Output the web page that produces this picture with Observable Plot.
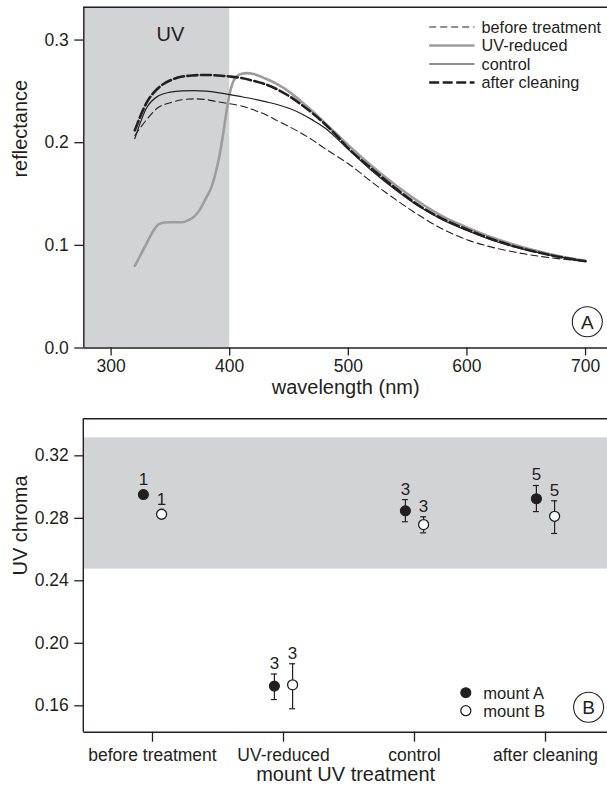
<!DOCTYPE html>
<html>
<head>
<meta charset="utf-8">
<script src="https://cdn.jsdelivr.net/npm/d3@7"></script>
<script src="https://cdn.jsdelivr.net/npm/@observablehq/plot@0.6"></script>
<style>
  html, body { margin: 0; padding: 0; background: #fff; }
  #chart { width: 607px; height: 793px; font-family: "Liberation Sans", Arial, sans-serif; }
  #chart svg { display: block; }
</style>
</head>
<body>
<div id="chart"></div>
<script>
// ---------- Panel A data: reflectance spectra ----------
const wavelengths = [320,330,340,350,360,370,380,390,400,410,420,430,440,450,460,470,480,490,500,520,540,560,580,600,620,640,660,680,700];
const beforeTreatment = [0.207,0.2225,0.2345,0.239,0.2418,0.2427,0.242,0.2398,0.238,0.2357,0.232,0.2275,0.2215,0.2157,0.2095,0.2025,0.1945,0.187,0.1795,0.1615,0.1445,0.129,0.1155,0.1055,0.0985,0.0935,0.0895,0.0866,0.0845];
const control = [0.204,0.234,0.2457,0.2493,0.2505,0.2507,0.2502,0.2488,0.2468,0.2448,0.2426,0.24,0.2372,0.2335,0.2285,0.222,0.2145,0.2045,0.1935,0.1725,0.154,0.1375,0.1245,0.1145,0.1055,0.0985,0.093,0.0882,0.0845];
const afterCleaning = [0.212,0.239,0.2535,0.2608,0.2644,0.2656,0.266,0.2655,0.2645,0.263,0.2603,0.257,0.252,0.2455,0.2375,0.2285,0.2185,0.207,0.1945,0.1745,0.1555,0.1385,0.1255,0.1155,0.1065,0.099,0.0932,0.0883,0.0845];
const uvReducedWavelengths = [320,325,330,335,340,345,350,360,365,370,375,380,385,388,391,394,397,400,405,410,415,420,430,440,450,460,470,480,490,500,520,540,560,580,600,620,640,660,680,700];
const uvReduced = [0.080,0.091,0.102,0.113,0.1205,0.1222,0.1225,0.1225,0.1245,0.128,0.135,0.146,0.158,0.170,0.185,0.205,0.228,0.248,0.2635,0.2672,0.2678,0.267,0.2625,0.257,0.2497,0.2405,0.2305,0.2195,0.2085,0.1975,0.177,0.1585,0.142,0.128,0.1175,0.1082,0.1005,0.0942,0.0888,0.085];
const seriesNames = ["before treatment", "UV-reduced", "control", "after cleaning"];
const xTicksA = [300, 400, 500, 600, 700];
const yTicksA = [0, 0.1, 0.2, 0.3];
const xDomainA = [277, 718.5];
const yDomainA = [0, 0.332];
const uvBand = [277, 400];
const uvLabel = {text: "UV", wavelength: 350};

// ---------- Panel B data: UV chroma ----------
const treatments = ["before treatment", "UV-reduced", "control", "after cleaning"];
const mountAChroma = [0.2952, 0.1726, 0.2848, 0.2925];
const mountALow    = [null, 0.1640, 0.2778, 0.2843];
const mountAHigh   = [null, 0.1803, 0.2920, 0.3010];
const mountBChroma = [0.2826, 0.1734, 0.2760, 0.2813];
const mountBLow    = [null, 0.1581, 0.2707, 0.2703];
const mountBHigh   = [null, 0.1869, 0.2810, 0.2912];
const sampleSizes  = [1, 3, 3, 5];
const yTicksB = [0.16, 0.20, 0.24, 0.28, 0.32];
const yDomainB = [0.1431, 0.3437];
const chromaBand = [0.2475, 0.3315];
const mountNames = ["mount A", "mount B"];

// ---------- styles ----------
const ink = "#231f20";
const grayFill = "#d2d3d5";
const font = "'Liberation Sans', Arial, sans-serif";
const styleA = [
  {stroke: ink, width: 1.1, dash: "7,4"},
  {stroke: "#9d9d9d", width: 2.6, dash: null},
  {stroke: ink, width: 1.2, dash: null},
  {stroke: ink, width: 2.6, dash: "10,3.5"}
];
const seriesData = [
  wavelengths.map((w, i) => ({w, r: beforeTreatment[i]})),
  uvReducedWavelengths.map((w, i) => ({w, r: uvReduced[i]})),
  wavelengths.map((w, i) => ({w, r: control[i]})),
  wavelengths.map((w, i) => ({w, r: afterCleaning[i]}))
];
const drawOrder = [1, 0, 2, 3];

const chart = document.getElementById("chart");

// ---------- Panel A ----------
const plotA = Plot.plot({
  width: 607, height: 410,
  marginTop: 6.7, marginLeft: 83.3, marginRight: 0, marginBottom: 62.5,
  style: {fontFamily: font, fontSize: "17.5px", color: ink, background: "#fff"},
  x: {domain: xDomainA},
  y: {domain: yDomainA},
  marks: [
    Plot.rect([uvBand], {x1: d => d[0], x2: d => d[1], y1: () => yDomainA[0], y2: () => yDomainA[1], fill: grayFill}),
    ...drawOrder.map(k => Plot.line(seriesData[k], {
      x: "w", y: "r", curve: "monotone-x",
      stroke: styleA[k].stroke, strokeWidth: styleA[k].width,
      strokeDasharray: styleA[k].dash || undefined
    })),
    Plot.text([uvLabel], {x: "wavelength", frameAnchor: "top", dy: 20, text: "text", fontSize: 20, fill: ink}),
    Plot.ruleX([xDomainA[0]], {stroke: ink, strokeWidth: 1.4}),
    Plot.ruleY([yDomainA[0]], {stroke: ink, strokeWidth: 1.4}),
    Plot.ruleY([yDomainA[1]], {stroke: ink, strokeWidth: 1.4}),
    Plot.axisX({ticks: xTicksA, tickSize: 8, tickPadding: 4, label: null, strokeWidth: 1.3, fontSize: 17.5}),
    Plot.axisY({ticks: yTicksA, tickFormat: ".1f", tickSize: 9, tickPadding: 6, label: null, strokeWidth: 1.3, fontSize: 17.5}),
    Plot.text(["wavelength (nm)"], {frameAnchor: "bottom", dy: 46, fontSize: 20, fill: ink}),
    Plot.text(["reflectance"], {frameAnchor: "left", rotate: -90, dx: -63.3, fontSize: 20, fill: ink})
  ]
});
chart.appendChild(plotA);

// legend A
const gA = d3.select(plotA).append("g").attr("font-family", font).attr("fill", ink);
seriesNames.forEach((name, i) => {
  const y = 27 + i * 18.5;
  const ln = gA.append("line").attr("x1", 429.2).attr("x2", 474.5).attr("y1", y).attr("y2", y)
    .attr("stroke", styleA[i].stroke).attr("stroke-width", styleA[i].width);
  if (styleA[i].dash) ln.attr("stroke-dasharray", styleA[i].dash);
  gA.append("text").attr("x", 481.5).attr("y", y).attr("dy", "0.35em")
    .attr("text-anchor", "start").attr("font-size", 16.3).text(name);
});
const tagA = gA.append("g").attr("transform", "translate(587.3,321.7)");
tagA.append("circle").attr("r", 15).attr("fill", "none").attr("stroke", ink).attr("stroke-width", 1.1);
tagA.append("text").attr("text-anchor", "middle").attr("dy", "0.36em").attr("font-size", 19).text("A");

// ---------- Panel B ----------
const rowsB = treatments.flatMap((t, i) => [
  {treatment: t, mount: mountNames[0], value: mountAChroma[i], lo: mountALow[i], hi: mountAHigh[i], n: sampleSizes[i]},
  {treatment: t, mount: mountNames[1], value: mountBChroma[i], lo: mountBLow[i], hi: mountBHigh[i], n: sampleSizes[i]}
]);
const isA = d => d.mount === mountNames[0];
const hasErr = d => d.hi != null;
const dodge = 9.1;

const markSet = (filt, dx) => [
  Plot.ruleX(rowsB, {filter: d => filt(d) && hasErr(d), x: "treatment", y1: "lo", y2: "hi", dx, stroke: ink, strokeWidth: 1.2}),
  Plot.ruleY(rowsB, {filter: d => filt(d) && hasErr(d), x1: "treatment", x2: "treatment", y: "hi", dx, insetLeft: -3, insetRight: -3, stroke: ink, strokeWidth: 1.2}),
  Plot.ruleY(rowsB, {filter: d => filt(d) && hasErr(d), x1: "treatment", x2: "treatment", y: "lo", dx, insetLeft: -3, insetRight: -3, stroke: ink, strokeWidth: 1.2}),
  Plot.text(rowsB, {filter: d => filt(d) && hasErr(d), x: "treatment", y: "hi", text: d => String(d.n), dx, dy: -10.5, fontSize: 17, fill: ink}),
  Plot.text(rowsB, {filter: d => filt(d) && !hasErr(d), x: "treatment", y: "value", text: d => String(d.n), dx, dy: -14.6, fontSize: 17, fill: ink})
];

const plotB = Plot.plot({
  width: 607, height: 383,
  marginTop: 8.3, marginLeft: 83.3, marginRight: 0, marginBottom: 61.3,
  style: {fontFamily: font, fontSize: "17.5px", color: ink, background: "#fff"},
  x: {type: "point", domain: treatments, range: [151.4, 546], padding: 0},
  y: {domain: yDomainB},
  marks: [
    Plot.rect([chromaBand], {y1: d => d[0], y2: d => d[1], fill: grayFill}),
    ...markSet(isA, -dodge),
    ...markSet(d => !isA(d), dodge),
    Plot.dot(rowsB, {filter: isA, x: "treatment", y: "value", dx: -dodge, r: 5, fill: ink, stroke: ink, strokeWidth: 1.1}),
    Plot.dot(rowsB, {filter: d => !isA(d), x: "treatment", y: "value", dx: dodge, r: 5, fill: "#fff", stroke: ink, strokeWidth: 1.3}),
    Plot.ruleY([yDomainB[0]], {stroke: ink, strokeWidth: 1.4}),
    Plot.ruleY([yDomainB[1]], {stroke: ink, strokeWidth: 1.4}),
    Plot.axisX({tickSize: 10, tickPadding: 6, label: null, strokeWidth: 1.3, fontSize: 17.5}),
    Plot.axisY({ticks: yTicksB, tickFormat: ".2f", tickSize: 9, tickPadding: 6, label: null, strokeWidth: 1.3, fontSize: 17.5}),
    Plot.text(["mount UV treatment"], {frameAnchor: "bottom", dy: 48.5, fontSize: 20, fill: ink}),
    Plot.text(["UV chroma"], {frameAnchor: "left", rotate: -90, dx: -63.3, fontSize: 20, fill: ink})
  ]
});
chart.appendChild(plotB);

// left frame line for panel B (from the y scale)
const gB = d3.select(plotB).append("g").attr("font-family", font).attr("fill", ink);
const yB = plotB.scale("y");
gB.append("line").attr("x1", 83.3).attr("x2", 83.3)
  .attr("y1", yB.apply(yDomainB[0])).attr("y2", yB.apply(yDomainB[1]))
  .attr("stroke", ink).attr("stroke-width", 1.4);

// legend B
mountNames.forEach((name, i) => {
  const y = 282.7 + i * 18;
  gB.append("circle").attr("cx", 465.8).attr("cy", y).attr("r", 5)
    .attr("fill", i === 0 ? ink : "#fff").attr("stroke", ink).attr("stroke-width", i === 0 ? 1.1 : 1.3);
  gB.append("text").attr("x", 483.2).attr("y", y).attr("dy", "0.35em")
    .attr("text-anchor", "start").attr("font-size", 16.6).text(name);
});
const tagB = gB.append("g").attr("transform", "translate(588.6,297.3)");
tagB.append("circle").attr("r", 15).attr("fill", "none").attr("stroke", ink).attr("stroke-width", 1.1);
tagB.append("text").attr("text-anchor", "middle").attr("dy", "0.36em").attr("font-size", 19).text("B");
</script>
</body>
</html>
